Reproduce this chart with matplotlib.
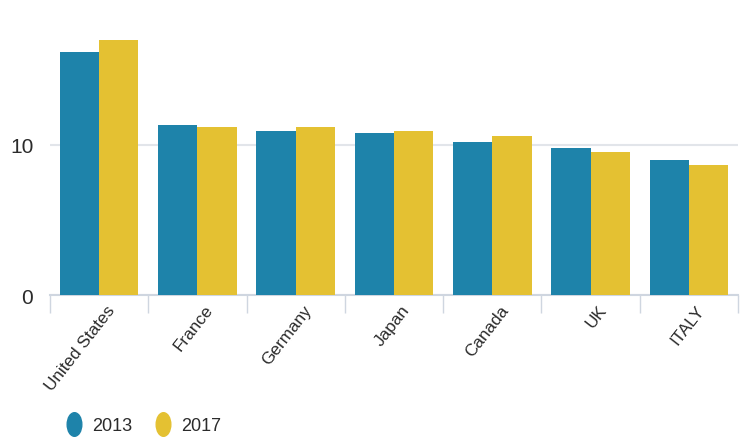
import matplotlib
matplotlib.use("Agg")
import matplotlib.pyplot as plt
import matplotlib.transforms as mtransforms
import numpy as np
from matplotlib.lines import Line2D
from matplotlib.path import Path
from matplotlib.transforms import Affine2D

countries = ["United States", "France", "Germany", "Japan", "Canada", "UK", "ITALY"]
years = ["2013", "2017"]
vals_2013 = [16.2, 11.33, 10.91, 10.78, 10.2, 9.8, 8.98]
vals_2017 = [17.0, 11.18, 11.18, 10.91, 10.62, 9.51, 8.69]
yticks = [0, 10]

blue = "#1E83AA"
yellow = "#E4C132"
grid_col = "#e2e5ea"
axis_col = "#cfd6e0"
text_col = "#2b2b2b"

plt.rcParams['font.family'] = ['Liberation Sans', 'DejaVu Sans']

fig = plt.figure(figsize=(7.44, 4.39), dpi=100)
ax = fig.add_axes([50 / 744, (439 - 296) / 439, 688 / 744, 285 / 439])

x = np.arange(len(countries))
w = 0.4
ax.bar(x - w / 2, vals_2013, w, color=blue, zorder=3)
ax.bar(x + w / 2, vals_2017, w, color=yellow, zorder=3)

ax.set_xlim(-0.5, len(countries) - 0.5)
ax.set_ylim(0, 19)

# gridline + value labels
ax.set_yticks(yticks)
ax.set_yticklabels([str(t) for t in yticks], fontsize=15, color=text_col)
ax.yaxis.grid(True, color=grid_col, linewidth=1.5, zorder=0)
ax.tick_params(axis='y', length=0, pad=12)

# category separators as major ticks, names on minor ticks
ax.set_xticks(np.arange(-0.5, len(countries), 1.0))
ax.set_xticklabels([])
ax.tick_params(axis='x', which='major', length=13, color=axis_col, width=1)
ax.set_xticks(x, minor=True)
ax.set_xticklabels(countries, minor=True, rotation=52, ha='right', va='top',
                   rotation_mode='anchor', fontsize=12.3, color=text_col)
ax.tick_params(axis='x', which='minor', length=0, pad=5)
shift = mtransforms.ScaledTranslation(0.07, 0, fig.dpi_scale_trans)
for lbl in ax.get_xticklabels(minor=True):
    lbl.set_transform(lbl.get_transform() + shift)

for s in ['top', 'right', 'left']:
    ax.spines[s].set_visible(False)
ax.spines['bottom'].set_color(axis_col)
ax.spines['bottom'].set_linewidth(1.5)

# legend with tall oval markers
ellipse = Path.unit_circle().transformed(Affine2D().scale(0.62, 1.0))
handles = [
    Line2D([], [], linestyle='none', marker=ellipse, markersize=17,
           markerfacecolor=c, markeredgecolor=c)
    for c in [blue, yellow]
]
fig.legend(handles, years, loc='center left',
           bbox_to_anchor=(65 / 744, 1 - 427 / 439),
           ncol=2, frameon=False, fontsize=13, handletextpad=0.5,
           columnspacing=1.2, handlelength=1.0, borderpad=0,
           borderaxespad=0, labelcolor=text_col)

fig.savefig("out.png", dpi=100)
